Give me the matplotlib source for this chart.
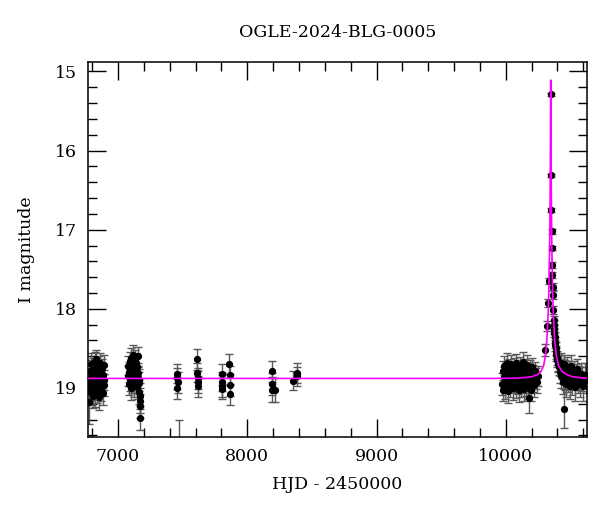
import numpy as np
import matplotlib
matplotlib.use("Agg")
import matplotlib.pyplot as plt
from matplotlib.ticker import MultipleLocator

plt.rcParams["font.family"] = ["DejaVu Serif"]

# OGLE photometry (HJD - 2450000, I mag, error)
# baseline season 1
c1_t = [6776, 6779, 6783, 6785, 6788, 6791, 6794, 6797, 6801, 6803,
        6806, 6810, 6812, 6815, 6819, 6822, 6824, 6827, 6830, 6833,
        6836, 6839, 6842, 6846, 6849, 6851, 6854, 6858, 6861, 6864,
        6867, 6869, 6872, 6876, 6879, 6882, 6885, 6888, 6891, 6894]
c1_m = [18.95, 19.18, 18.78, 19.02, 18.88, 18.70, 19.05, 18.92, 18.82, 19.10,
        18.97, 18.74, 18.86, 19.00, 18.66, 18.90, 19.08, 18.80, 18.63, 18.94,
        18.85, 19.04, 18.76, 18.89, 18.98, 18.72, 19.12, 18.83, 18.93, 18.68,
        18.87, 19.01, 18.79, 18.91, 18.75, 19.06, 18.84, 18.96, 18.71, 18.90]
c1_e = [0.14, 0.28, 0.13, 0.15, 0.12, 0.14, 0.16, 0.13, 0.12, 0.15,
        0.14, 0.12, 0.13, 0.15, 0.12, 0.13, 0.16, 0.12, 0.11, 0.14,
        0.13, 0.15, 0.12, 0.13, 0.14, 0.12, 0.16, 0.13, 0.14, 0.12,
        0.13, 0.15, 0.12, 0.14, 0.12, 0.15, 0.13, 0.14, 0.12, 0.13]

# baseline season 2
c2_t = [7077, 7081, 7083, 7088, 7091, 7094, 7097, 7100, 7103, 7106,
        7109, 7112, 7115, 7118, 7121, 7124, 7127, 7130, 7133, 7136,
        7139, 7142, 7145, 7148, 7151, 7154, 7157, 7160, 7163, 7165,
        7167, 7169, 7171, 7174]
c2_m = [18.85, 18.72, 18.95, 18.80, 18.66, 18.90, 18.78, 19.00, 18.62, 18.86,
        18.74, 18.93, 18.58, 18.82, 18.97, 18.70, 18.88, 18.64, 18.79, 18.92,
        18.68, 18.84, 18.99, 18.73, 18.87, 18.60, 18.81, 18.94, 19.05, 18.90,
        19.16, 19.23, 19.38, 19.10]
c2_e = [0.13, 0.12, 0.14, 0.13, 0.12, 0.14, 0.13, 0.15, 0.12, 0.13,
        0.12, 0.14, 0.12, 0.13, 0.15, 0.12, 0.13, 0.12, 0.13, 0.14,
        0.12, 0.13, 0.15, 0.12, 0.13, 0.12, 0.13, 0.14, 0.15, 0.14,
        0.16, 0.15, 0.15, 0.16]

# sparse groups 7400-8400
g_t = [7455, 7458, 7460, 7462, 7473, 7612, 7614, 7616, 7618, 7620,
       7801, 7804, 7806, 7808, 7861, 7863, 7865, 7867, 8188, 8191,
       8194, 8217, 8352, 8381, 8384]
g_m = [18.82, 18.88, 19.00, 18.93, 19.72, 18.64, 18.81, 18.88, 18.92, 18.98,
       18.83, 18.92, 18.98, 19.01, 18.70, 18.84, 18.96, 19.08, 18.79, 18.95,
       19.02, 19.03, 18.91, 18.81, 18.85]
g_e = [0.12, 0.13, 0.14, 0.13, 0.32, 0.13, 0.12, 0.13, 0.14, 0.13,
       0.13, 0.12, 0.14, 0.13, 0.13, 0.12, 0.14, 0.13, 0.13, 0.14,
       0.16, 0.15, 0.12, 0.13, 0.12]

# 2023-2024 baseline before the event
c3_t = [9970, 9975, 9979, 9984, 9988, 9993, 9997, 10002, 10006, 10011,
        10015, 10020, 10024, 10029, 10033, 10038, 10042, 10047, 10051, 10056,
        10060, 10065, 10069, 10074, 10078, 10083, 10087, 10092, 10096, 10101,
        10105, 10110, 10114, 10119, 10123, 10128, 10132, 10137, 10141, 10146,
        10150, 10155, 10159, 10164, 10168, 10173, 10177, 10181, 10186, 10190,
        10195, 10199, 10204, 10208, 10213, 10218, 10224, 10231, 10240, 10252]
c3_m = [18.95, 18.78, 19.02, 18.86, 18.72, 18.92, 18.99, 18.81, 18.68, 18.90,
        18.84, 19.04, 18.75, 18.88, 18.96, 18.70, 18.83, 18.93, 18.79, 19.00,
        18.87, 18.74, 18.91, 18.82, 18.98, 18.69, 18.85, 18.94, 18.77, 19.03,
        18.89, 18.73, 18.86, 18.97, 18.80, 18.92, 18.67, 18.84, 19.01, 18.76,
        18.90, 18.83, 18.95, 18.71, 18.88, 18.99, 19.13, 18.81, 18.93, 18.78,
        18.86, 19.02, 18.74, 18.91, 18.84, 18.96, 18.79, 18.88, 18.93, 18.85]
c3_e = [0.14, 0.12, 0.15, 0.13, 0.12, 0.14, 0.15, 0.13, 0.12, 0.14,
        0.13, 0.15, 0.12, 0.14, 0.15, 0.12, 0.13, 0.14, 0.12, 0.15,
        0.13, 0.12, 0.14, 0.13, 0.15, 0.12, 0.13, 0.14, 0.12, 0.15,
        0.14, 0.12, 0.13, 0.15, 0.12, 0.14, 0.12, 0.13, 0.15, 0.12,
        0.14, 0.13, 0.15, 0.12, 0.13, 0.15, 0.19, 0.12, 0.14, 0.13,
        0.13, 0.15, 0.12, 0.14, 0.13, 0.15, 0.12, 0.13, 0.14, 0.13]

# rising branch
rise_t = [10305, 10318, 10328, 10334]
rise_m = [18.52, 18.22, 17.93, 17.65]
rise_e = [0.08, 0.06, 0.05, 0.04]

# peak and falling branch
c4_t = [10348.5, 10351.5, 10353.5, 10355, 10356.5, 10359, 10360.5, 10362, 10364, 10367,
        10370, 10372, 10374, 10376, 10378, 10381, 10383, 10386, 10389, 10392,
        10396, 10400, 10404, 10408, 10413]
c4_m = [15.29, 16.31, 16.75, 17.02, 17.23, 17.45, 17.57, 17.72, 17.82, 18.02,
        18.14, 18.20, 18.26, 18.30, 18.36, 18.42, 18.46, 18.50, 18.55, 18.58,
        18.62, 18.65, 18.70, 18.68, 18.74]
c4_e = [0.02, 0.02, 0.03, 0.03, 0.03, 0.04, 0.04, 0.04, 0.05, 0.05,
        0.05, 0.06, 0.06, 0.06, 0.07, 0.07, 0.07, 0.08, 0.08, 0.08,
        0.09, 0.09, 0.10, 0.10, 0.10]

# tail after the event
c5_t = [10418, 10422, 10426, 10431, 10435, 10440, 10444, 10449, 10453, 10457,
        10462, 10467, 10471, 10476, 10481, 10486, 10491, 10496, 10502, 10508,
        10514, 10520, 10527, 10534, 10541, 10548, 10556, 10564, 10572, 10580,
        10590, 10600, 10610, 10620]
c5_m = [18.72, 18.80, 18.68, 18.85, 18.76, 18.92, 18.81, 18.70, 19.26, 18.88,
        18.78, 18.95, 18.83, 18.74, 18.90, 18.86, 18.79, 18.97, 18.84, 18.72,
        18.93, 18.88, 18.80, 18.99, 18.85, 18.76, 18.91, 18.87, 18.95, 18.82,
        18.89, 18.98, 18.84, 18.90]
c5_e = [0.13, 0.14, 0.12, 0.15, 0.13, 0.16, 0.14, 0.12, 0.25, 0.15,
        0.13, 0.16, 0.14, 0.13, 0.15, 0.14, 0.13, 0.17, 0.14, 0.13,
        0.16, 0.15, 0.14, 0.18, 0.15, 0.13, 0.16, 0.15, 0.17, 0.14,
        0.15, 0.18, 0.15, 0.16]

# model light curve, sampled off the magenta line
model_t = [6770, 9900, 10098, 10198, 10248, 10273, 10293, 10308, 10318, 10328,
           10333, 10338, 10341, 10344, 10346, 10348, 10350, 10352, 10355, 10358,
           10363, 10368, 10378, 10390, 10408, 10435, 10470, 10520, 10600, 10630]
model_m = [18.88, 18.88, 18.875, 18.86, 18.83, 18.79, 18.72, 18.58, 18.39, 18.06,
           17.79, 17.38, 17.02, 16.45, 15.82, 15.11, 15.82, 16.45, 17.02, 17.38,
           17.79, 18.06, 18.39, 18.58, 18.72, 18.79, 18.83, 18.86, 18.875, 18.88]

hjd = np.concatenate([c1_t, c2_t, g_t, c3_t, rise_t, c4_t, c5_t])
mag = np.concatenate([c1_m, c2_m, g_m, c3_m, rise_m, c4_m, c5_m])
err = np.concatenate([c1_e, c2_e, g_e, c3_e, rise_e, c4_e, c5_e])

fig = plt.figure(figsize=(6.0, 5.12), dpi=100)
ax = fig.add_axes([0.1467, 0.1465, 0.8313, 0.7325])

ax.errorbar(hjd, mag, yerr=err, fmt="o", color="black", ms=4.2,
            ecolor="0.35", elinewidth=1.0, capsize=3.2, capthick=1.0, zorder=2)
ax.plot(model_t, model_m, color="#ff00ff", lw=1.2, zorder=3)

ax.set_xlim(6768, 10627)
ax.set_ylim(19.62, 14.88)

ax.xaxis.set_major_locator(MultipleLocator(1000))
ax.xaxis.set_minor_locator(MultipleLocator(200))
ax.yaxis.set_major_locator(MultipleLocator(1))
ax.yaxis.set_minor_locator(MultipleLocator(0.2))
ax.tick_params(which="both", direction="in", top=True, right=True, width=1.0,
               labelsize=12.5, pad=8)
ax.tick_params(which="major", length=13)
ax.tick_params(which="minor", length=6.5)
for s in ax.spines.values():
    s.set_linewidth(1.1)

ax.set_xlabel("HJD - 2450000", fontsize=12.5, labelpad=8)
ax.set_ylabel("I magnitude", fontsize=12.5, labelpad=14)
ax.set_title("OGLE-2024-BLG-0005", fontsize=12.5, pad=18)

fig.savefig("out.png", dpi=100)
